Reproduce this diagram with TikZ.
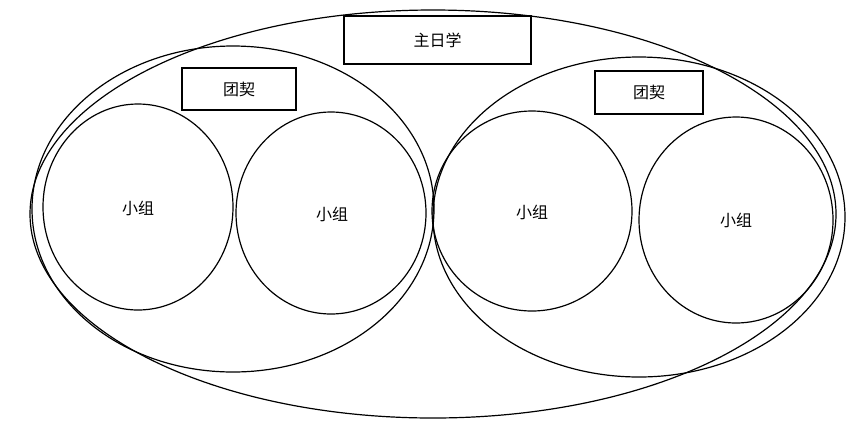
\documentclass[tikz,border=0pt]{standalone}
\usepackage{fontspec}
\newfontfamily\cjk{Noto Sans CJK SC}
\begin{document}
\begin{tikzpicture}[x=1pt,y=-1pt,
  ell/.style={draw,line width=1.2pt},
  box/.style={draw,line width=1.2pt,minimum height=0pt,inner sep=0pt},
  lbl/.style={font=\cjk\fontsize{16}{18}\selectfont}]
\useasboundingbox (0,0) rectangle (866,432);
\draw[ell] (433,214) ellipse [x radius=403,y radius=204];
\draw[ell] (233,209) ellipse [x radius=201,y radius=163];
\draw[ell] (639,217) ellipse [x radius=206,y radius=160];
\draw[ell] (138,207) ellipse [x radius=95,y radius=103];
\draw[ell] (331,213) ellipse [x radius=95,y radius=101];
\draw[ell] (532,211) ellipse [x radius=100,y radius=100];
\draw[ell] (736,220) ellipse [x radius=97,y radius=103];
\node[box,minimum width=187pt,minimum height=48pt,lbl] (main) at (437.5,40) {主日学};
\node[box,minimum width=114pt,minimum height=42pt,lbl] (t1) at (239,89) {团契};
\node[box,minimum width=108pt,minimum height=43pt,lbl] (t2) at (649,92.5) {团契};
\node[lbl] (g1) at (138,208) {小组};
\node[lbl] (g2) at (332,214) {小组};
\node[lbl] (g3) at (532,212) {小组};
\node[lbl] (g4) at (736,220) {小组};
\end{tikzpicture}
\end{document}
